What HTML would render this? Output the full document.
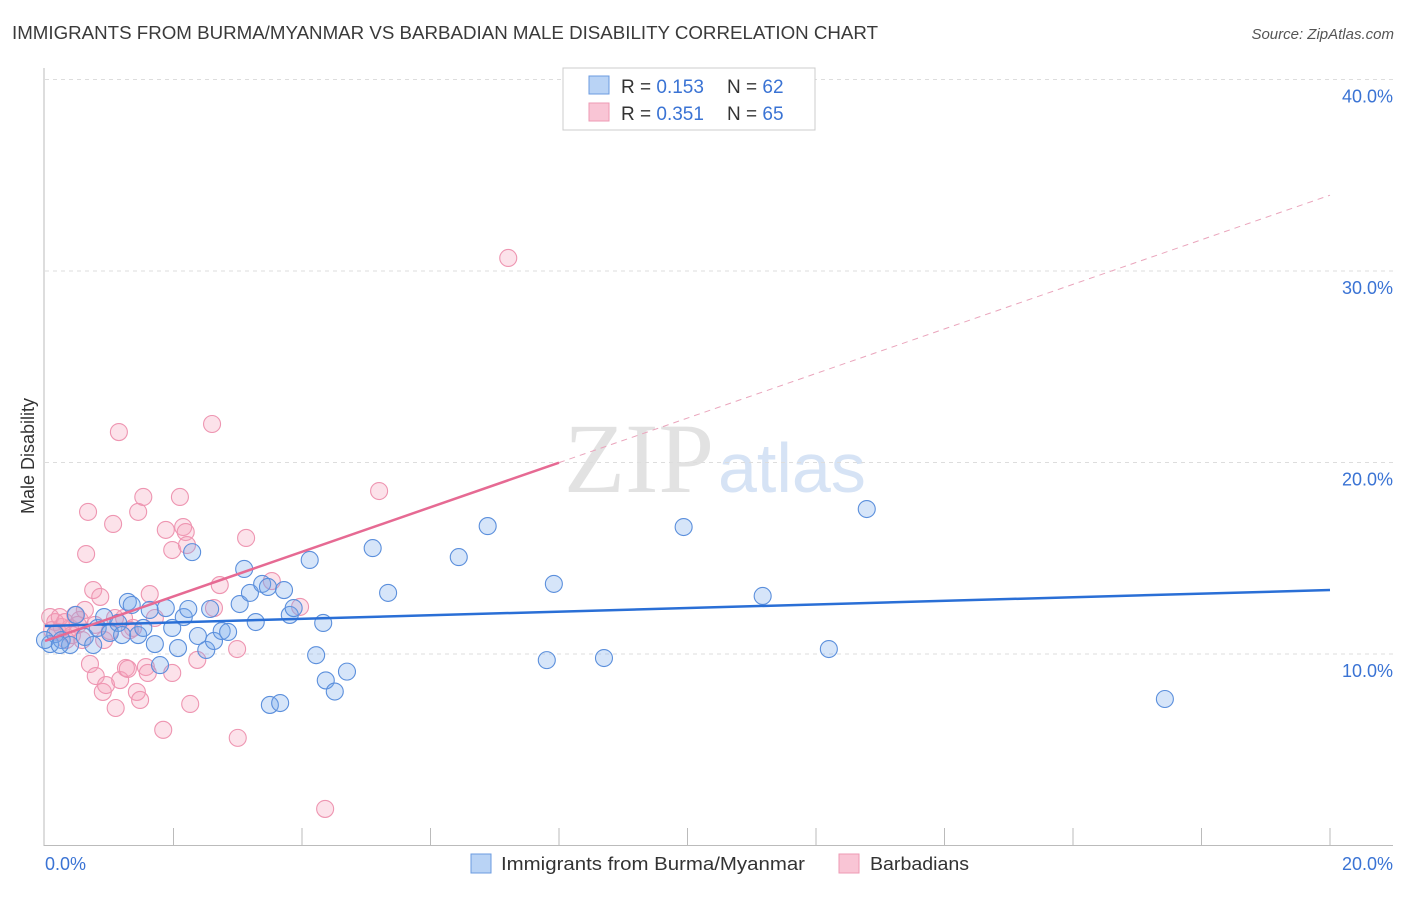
<!DOCTYPE html>
<html><head><meta charset="utf-8"><style>
body{margin:0;background:#fff;font-family:"Liberation Sans",sans-serif}
</style></head><body>
<svg id="c" width="1406" height="892" xmlns="http://www.w3.org/2000/svg">
<text x="12" y="39" font-size="18" fill="#3a3a3a" textLength="866" lengthAdjust="spacingAndGlyphs">IMMIGRANTS FROM BURMA/MYANMAR VS BARBADIAN MALE DISABILITY CORRELATION CHART</text>
<text x="1394" y="39" font-size="15" fill="#555" font-style="italic" text-anchor="end">Source: ZipAtlas.com</text>
<text x="714" y="492" font-size="100" fill="#e2e2e2" font-family="Liberation Serif,serif" text-anchor="end">ZIP</text>
<text x="718" y="492" font-size="70" fill="#d6e3f5">atlas</text>
<text x="34" y="456" font-size="18" fill="#333" transform="rotate(-90 34 456)" text-anchor="middle">Male Disability</text>
<g id="grid"></g><g id="pts"></g><g id="lines"></g>
<g>
<rect x="563" y="68" width="252" height="62" fill="#fff" stroke="#ccc"/>
<rect x="589" y="76" width="20" height="18" fill="#b9d3f5" stroke="#6b9be0"/>
<rect x="589" y="103" width="20" height="18" fill="#f9c5d5" stroke="#ee9ab4"/>
<text x="621" y="93" font-size="19" fill="#333">R = <tspan fill="#3a73d4">0.153</tspan><tspan x="727">N = </tspan><tspan fill="#3a73d4">62</tspan></text>
<text x="621" y="120" font-size="19" fill="#333">R = <tspan fill="#3a73d4">0.351</tspan><tspan x="727">N = </tspan><tspan fill="#3a73d4">65</tspan></text>
</g>
<g>
<rect x="471" y="854" width="20" height="19" fill="#b9d3f5" stroke="#6b9be0"/>
<text x="501" y="870" font-size="18" fill="#333" textLength="304" lengthAdjust="spacingAndGlyphs">Immigrants from Burma/Myanmar</text>
<rect x="839" y="854" width="20" height="19" fill="#f9c5d5" stroke="#ee9ab4"/>
<text x="870" y="870" font-size="18" fill="#333" textLength="99" lengthAdjust="spacingAndGlyphs">Barbadians</text>
</g>
</svg>
<script>
const blueX=[0.08,0.16,0.26,0.39,0.48,0.62,0.75,0.82,0.92,1.01,1.14,1.20,1.29,1.35,1.45,1.53,1.63,1.71,1.79,1.88,1.98,2.07,2.16,2.23,2.29,2.38,2.51,2.57,2.63,2.75,2.85,3.03,3.10,3.19,3.28,3.38,3.47,3.50,3.66,3.72,3.81,3.87,4.12,4.22,4.33,4.37,4.51,4.70,5.10,5.34,6.44,6.89,7.81,7.92,8.70,9.94,11.17,12.20,12.79,17.43,0,0.23];
const blueY=[10.52,11.04,10.73,10.47,12.04,10.89,10.47,11.36,11.93,11.10,11.62,10.99,12.72,12.56,10.99,11.36,12.30,10.52,9.42,12.40,11.36,10.31,11.93,12.35,15.32,10.94,10.21,12.35,10.68,11.20,11.15,12.61,14.44,13.19,11.67,13.66,13.50,7.34,7.44,13.34,12.04,12.40,14.91,9.94,11.62,8.62,8.04,9.08,15.53,13.19,15.06,16.68,9.68,13.66,9.79,16.63,13.03,10.26,17.57,7.65,10.73,10.47];
const pinkX=[0.08,0.16,0.20,0.26,0.33,0.39,0.11,0.47,0.54,0.62,0.67,0.64,0.70,0.75,0.79,0.86,0.90,0.95,1.01,1.06,1.10,1.15,1.17,1.23,1.26,1.29,1.37,1.43,1.45,1.48,1.53,1.57,1.60,1.63,1.84,1.88,1.98,1.98,2.10,2.15,2.19,2.21,2.26,2.37,2.60,2.63,2.72,2.99,3.00,3.13,3.53,3.97,4.36,5.20,7.21,0.23,0.31,0.42,0.51,0.58,0.78,0.92,1.09,1.32,1.71];
const pinkY=[11.93,11.67,11.15,11.41,10.73,11.36,11.25,12.04,11.78,12.30,17.42,15.22,9.48,13.34,8.85,12.98,8.02,8.38,11.20,16.79,7.18,21.59,8.64,11.88,9.27,9.22,11.36,8.02,17.42,7.60,18.20,9.32,9.01,13.13,6.04,16.48,15.43,9.01,18.20,16.63,16.37,15.69,7.39,9.69,22.01,12.40,13.60,10.26,5.62,16.06,13.81,12.46,1.91,18.51,30.68,11.93,11.67,10.99,11.52,10.73,11.52,10.73,11.88,11.25,11.88];
const yTicks=[10,20,30,40];
const xTickLabels=["0.0%","20.0%"];
const blueTrend=[11.46,13.34];
const pinkTrend=[10.68,33.96];
const pinkSolidEnd=8;
const NS="http://www.w3.org/2000/svg";
const X=v=>45+v/20*1285, Y=v=>845.5-v*19.15;
function mk(t,a,p){const e=document.createElementNS(NS,t);for(const k in a)e.setAttribute(k,a[k]);p.appendChild(e);return e;}
const g=document.getElementById('grid');
yTicks.forEach(t=>{
 const l=mk('line',{x1:45,x2:1393,y1:Y(t),y2:Y(t),stroke:'#ddd','stroke-dasharray':'4,4'},g);
 
 
 const tx=mk('text',{x:1393,y:Y(t)+23,'font-size':18,fill:'#3a73d4','text-anchor':'end'},g);
 tx.textContent=t.toFixed(1)+'%';
 
 
});
mk('line',{x1:44,x2:44,y1:68,y2:846,stroke:'#bbb'},g);
mk('line',{x1:44,x2:1393,y1:845.5,y2:845.5,stroke:'#bbb'},g);
for(let i=1;i<=10;i++){mk('line',{x1:X(i*2),x2:X(i*2),y1:828,y2:845,stroke:'#bbb'},g);}
xTickLabels.forEach((s,i)=>{
 const tx=mk('text',{x:i?1393:45,y:870,'font-size':18,fill:'#3a73d4','text-anchor':i?'end':'start'},g);
 tx.textContent=s;
 
 
});
const p=document.getElementById('pts');
pinkX.forEach((x,i)=>{
 const c=mk('circle',{cx:X(x),cy:Y(pinkY[i]),r:8.5,fill:'rgba(244,160,187,0.3)',stroke:'#ee95b1','stroke-width':1.1},p);
 
 
});
blueX.forEach((x,i)=>{
 const c=mk('circle',{cx:X(x),cy:Y(blueY[i]),r:8.5,fill:'rgba(120,168,235,0.3)',stroke:'#5b8fdc','stroke-width':1.1},p);
 
 
});
const L=document.getElementById('lines');
const b=mk('line',{x1:X(0),y1:Y(blueTrend[0]),x2:X(20),y2:Y(blueTrend[1]),stroke:'#2a6fd6','stroke-width':2.5},L);


const pm=pinkTrend[0]+(pinkTrend[1]-pinkTrend[0])*pinkSolidEnd/20;
const ps=mk('line',{x1:X(0),y1:Y(pinkTrend[0]),x2:X(pinkSolidEnd),y2:Y(pm),stroke:'#e66a93','stroke-width':2.5},L);


const pd=mk('line',{x1:X(pinkSolidEnd),y1:Y(pm),x2:X(20),y2:Y(pinkTrend[1]),stroke:'#eaa5bc','stroke-width':1,'stroke-dasharray':'6,5'},L);


</script>
</body></html>
